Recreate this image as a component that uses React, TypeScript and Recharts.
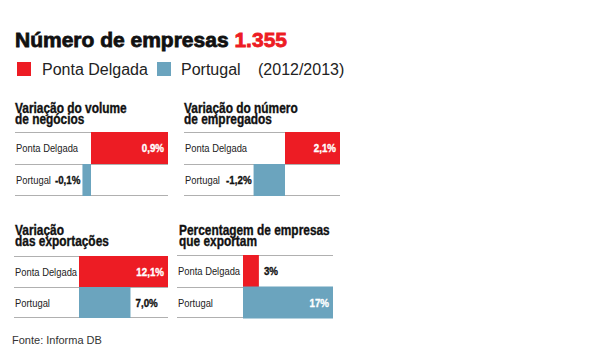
import React from 'react';
import { BarChart, Bar, XAxis, YAxis, CartesianGrid, LabelList, Cell } from 'recharts';

const categories = ['Ponta Delgada', 'Portugal'];
const volumeNegocios = [0.9, -0.1];
const numeroEmpregados = [2.1, -1.2];
const exportacoes = [12.1, 7.0];
const empresasExportam = [3, 17];
const seriesColors = ['#ED1C24', '#6BA4BE'];

const mainTitle = 'Número de empresas';
const mainTotal = '1.355';
const periodLabel = '(2012/2013)';
const sourceLabel = 'Fonte: Informa DB';

const FONT = '"Liberation Sans", Arial, sans-serif';
const TITLE_SCALE = 0.85;
const LABEL_SCALE = 0.85;
const CATEGORY_SCALE = 0.94;

const fmt = (v: number, d: number) => v.toFixed(d).replace('.', ',') + '%';

type PanelProps = {
  values: number[];
  decimals: number;
  left: number;
  top: number;
  width: number;
  plotHeight: number;
  zero: number;
};

function Panel({ values, decimals, left, top, width, plotHeight, zero }: PanelProps) {
  const data = categories.map((name, i) => ({ name, value: values[i] }));
  const max = Math.max(...values);
  const unit = max / (width - zero);
  const domain: [number, number] = [-zero * unit, max];
  const maxIndex = values.indexOf(max);

  const box = (props: any) => {
    const vb = props.viewBox || props;
    const x = vb.x ?? props.x;
    const y = vb.y ?? props.y;
    const w = vb.width ?? props.width;
    const h = vb.height ?? props.height;
    return { l: Math.min(x, x + w), r: Math.max(x, x + w), y: Math.min(y, y + h), h: Math.abs(h) };
  };

  const renderValue = (props: any) => {
    const { l, r, y, h } = box(props);
    const index = props.index;
    const value = values[index];
    const cy = y + h / 2 + 4;
    let tx = r + 5;
    let anchor: 'start' | 'end' = 'start';
    let fill = '#111';
    if (index === maxIndex && value > 0) {
      tx = r - 4;
      anchor = 'end';
      fill = '#fff';
    } else if (value < 0) {
      tx = l - 2;
      anchor = 'end';
    }
    return (
      <text
        x={0}
        y={0}
        transform={`translate(${tx},${cy}) scale(${LABEL_SCALE},1)`}
        textAnchor={anchor}
        fill={fill}
        stroke={fill}
        strokeWidth={0.35}
        fontFamily={FONT}
        fontWeight="bold"
        fontSize={11.5}
      >
        {fmt(value, decimals)}
      </text>
    );
  };

  const renderCategory = (props: any) => {
    const { y, h } = box(props);
    return (
      <text
        x={0}
        y={0}
        transform={`translate(1,${y + h / 2 + 4}) scale(${CATEGORY_SCALE},1)`}
        textAnchor="start"
        fill="#222"
        fontFamily={FONT}
        fontSize={10}
      >
        {categories[props.index]}
      </text>
    );
  };

  return (
    <div style={{ position: 'absolute', left, top }}>
      <BarChart
        width={width}
        height={plotHeight + 2}
        data={data}
        layout="vertical"
        margin={{ top: 1, right: 0, bottom: 1, left: 0 }}
        barCategoryGap={0}
      >
        <CartesianGrid
          vertical={false}
          stroke="#b0b0b0"
          horizontalCoordinatesGenerator={({ offset }: any) => [
            offset.top + 0.5,
            Math.round(offset.top + offset.height / 2) + 0.5,
            offset.top + offset.height - 0.5,
          ]}
        />
        <XAxis type="number" domain={domain} hide allowDataOverflow />
        <YAxis type="category" dataKey="name" hide />
        <Bar dataKey="value" isAnimationActive={false}>
          {data.map((d, i) => (
            <Cell key={d.name} fill={seriesColors[i]} />
          ))}
          <LabelList dataKey="name" content={renderCategory} />
          <LabelList dataKey="value" content={renderValue} />
        </Bar>
      </BarChart>
    </div>
  );
}

function PanelTitle({ x, y, lines }: { x: number; y: number; lines: string[] }) {
  return (
    <g transform={`translate(${x},${y}) scale(${TITLE_SCALE},1)`}>
      {lines.map((l, i) => (
        <text
          key={i}
          x={0}
          y={i * 11.5}
          fontFamily={FONT}
          fontWeight="bold"
          fontSize={14}
          fill="#111"
          stroke="#111"
          strokeWidth={0.35}
        >
          {l}
        </text>
      ))}
    </g>
  );
}

export default function App() {
  return (
    <div style={{ position: 'absolute', left: 0, top: 0, width: 610, height: 352, background: '#fff' }}>
      <svg width={610} height={352} style={{ position: 'absolute', left: 0, top: 0 }}>
        <text x={15} y={47} fontFamily={FONT} fontWeight="bold" fontSize={21} fill="#111" stroke="#111" strokeWidth={0.8}>
          {mainTitle}
          <tspan fill={seriesColors[0]} stroke={seriesColors[0]}> {mainTotal}</tspan>
        </text>
        <rect x={17} y={62} width={14} height={14} fill={seriesColors[0]} />
        <text x={42} y={75} fontFamily={FONT} fontSize={16} fill="#222">{categories[0]}</text>
        <rect x={157} y={62} width={14} height={14} fill={seriesColors[1]} />
        <text x={181} y={75} fontFamily={FONT} fontSize={16} fill="#222">{categories[1]}</text>
        <text x={258} y={75} fontFamily={FONT} fontSize={16} fill="#222">{periodLabel}</text>

        <PanelTitle x={15} y={112.5} lines={['Variação do volume', 'de negócios']} />
        <PanelTitle x={184} y={112.5} lines={['Variação do número', 'de empregados']} />
        <PanelTitle x={15} y={234.5} lines={['Variação', 'das exportações']} />
        <PanelTitle x={179} y={234.5} lines={['Percentagem de empresas', 'que exportam']} />

        <text x={12} y={344} fontFamily={FONT} fontSize={11} fill="#333">{sourceLabel}</text>
      </svg>
      <Panel values={volumeNegocios} decimals={1} left={15} top={131} width={153} plotHeight={64} zero={76} />
      <Panel values={numeroEmpregados} decimals={1} left={184} top={131} width={156} plotHeight={64} zero={101} />
      <Panel values={exportacoes} decimals={1} left={14} top={255} width={154} plotHeight={62} zero={65} />
      <Panel values={empresasExportam} decimals={0} left={177} top={254} width={156} plotHeight={63} zero={66} />
    </div>
  );
}
